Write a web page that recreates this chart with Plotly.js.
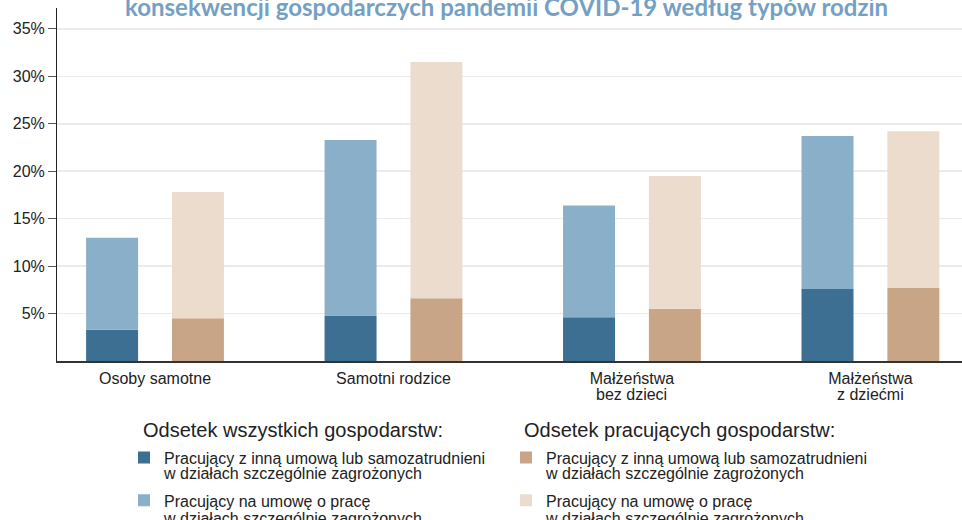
<!DOCTYPE html>
<html>
<head>
<meta charset="utf-8">
<script src="https://cdn.plot.ly/plotly-3.0.1.min.js"></script>
<style>html,body{margin:0;padding:0;background:#fff}#chart{width:962px;height:520px}</style>
</head>
<body>
<div id="chart"></div>
<script>
// Categories (family types)
const categories = ["Osoby samotne", "Samotni rodzice", "Małżeństwa bez dzieci", "Małżeństwa z dziećmi"];
const catLine1 = ["Osoby samotne", "Samotni rodzice", "Małżeństwa", "Małżeństwa"];
const catLine2 = ["", "", "bez dzieci", "z dziećmi"];
// Share of all households (%)
const inneAll = [3.3, 4.8, 4.6, 7.6];      // other contract / self-employed
const umowaAll = [9.7, 18.5, 11.8, 16.1];  // employment contract (stacked on top)
// Share of working households (%)
const innePrac = [4.5, 6.6, 5.5, 7.7];
const umowaPrac = [13.3, 24.9, 14.0, 16.5];

const yTicks = [5, 10, 15, 20, 25, 30, 35];
const yTickText = yTicks.map(v => v + "%");

const titleText = "konsekwencji gospodarczych pandemii COVID-19 według typów rodzin";
const legTitleAll = "Odsetek wszystkich gospodarstw:";
const legTitlePrac = "Odsetek pracujących gospodarstw:";
const lblInne = ["Pracujący z inną umową lub samozatrudnieni", "w działach szczególnie zagrożonych"];
const lblUmowa = ["Pracujący na umowę o pracę", "w działach szczególnie zagrożonych"];

const FONT = "Liberation Sans, Arial, sans-serif";
const W = 0.218;
const common = {type: "bar", x: categories, width: W, hoverinfo: "skip"};

const traces = [
  Object.assign({}, common, {name: lblInne[0], legendgroup: "a1", y: inneAll, offset: -0.289, marker: {color: "#3d6f92"}, legend: "legend"}),
  Object.assign({}, common, {name: lblUmowa[0], legendgroup: "a2", y: umowaAll, base: inneAll, offset: -0.289, marker: {color: "#8ab0c9"}, legend: "legend"}),
  Object.assign({}, common, {name: lblInne[0], legendgroup: "b1", y: innePrac, offset: 0.071, marker: {color: "#c9a587"}, legend: "legend2"}),
  Object.assign({}, common, {name: lblUmowa[0], legendgroup: "b2", y: umowaPrac, base: innePrac, offset: 0.071, marker: {color: "#ecdccd"}, legend: "legend2"})
];

const legendCommon = {
  orientation: "v", xanchor: "left", yanchor: "top", bgcolor: "rgba(0,0,0,0)",
  font: {family: FONT, size: 16, color: "#222"},
  tracegroupgap: 19, traceorder: "grouped", y: -0.2255
};

// pixel helpers for layout-only text placement (paper coords)
const plotL = 57, plotW = 905, plotT = 8, plotH = 353;
const px = x => (x - plotL) / plotW;
const py = y => (plotT + plotH - y) / plotH;

const annotations = [
  {text: titleText, xref: "paper", yref: "paper", x: px(506), y: 1, xanchor: "center", yanchor: "bottom",
   yshift: -15, showarrow: false, font: {family: "Lato, Open Sans, sans-serif", size: 24, color: "#74a0c4", weight: "bold"}},
  {text: legTitleAll, xref: "paper", yref: "paper", x: px(141), y: py(430), xanchor: "left", yanchor: "middle",
   showarrow: false, font: {family: FONT, size: 20, color: "#222"}},
  {text: legTitlePrac, xref: "paper", yref: "paper", x: px(522), y: py(430), xanchor: "left", yanchor: "middle",
   showarrow: false, font: {family: FONT, size: 20, color: "#222"}},
  {text: lblInne[1], xref: "paper", yref: "paper", x: px(161), y: py(473.5), xanchor: "left", yanchor: "middle",
   showarrow: false, font: {family: FONT, size: 16, color: "#222"}},
  {text: lblUmowa[1], xref: "paper", yref: "paper", x: px(161), y: py(518.5), xanchor: "left", yanchor: "middle",
   showarrow: false, font: {family: FONT, size: 16, color: "#222"}},
  {text: lblInne[1], xref: "paper", yref: "paper", x: px(543), y: py(473.5), xanchor: "left", yanchor: "middle",
   showarrow: false, font: {family: FONT, size: 16, color: "#222"}},
  {text: lblUmowa[1], xref: "paper", yref: "paper", x: px(543), y: py(518.5), xanchor: "left", yanchor: "middle",
   showarrow: false, font: {family: FONT, size: 16, color: "#222"}}
];
categories.forEach((c, i) => {
  if (catLine2[i]) annotations.push({text: catLine2[i], xref: "x", yref: "paper", x: c, y: py(394.5),
    xanchor: "center", yanchor: "middle", showarrow: false, font: {family: FONT, size: 16, color: "#222"}});
});

const layout = {
  width: 962, height: 520,
  margin: {l: plotL, r: 0, t: plotT, b: 520 - plotT - plotH},
  paper_bgcolor: "#fff", plot_bgcolor: "#fff",
  barmode: "overlay",
  font: {family: FONT, size: 16, color: "#222"},
  xaxis: {
    type: "category", range: [-0.411, 3.384], automargin: false,
    tickvals: categories, ticktext: catLine1, ticklabelstandoff: 2,
    showline: true, linecolor: "#333", linewidth: 2,
    ticks: "", showgrid: false, zeroline: false,
    tickfont: {size: 16, color: "#222"}
  },
  yaxis: {
    range: [0, 37.2], tickvals: yTicks, ticktext: yTickText, automargin: false,
    showline: true, linecolor: "#222", linewidth: 1,
    ticks: "outside", ticklen: 8, tickcolor: "#555", tickwidth: 1,
    showgrid: true, gridcolor: "#ebebeb", gridwidth: 1.5, zeroline: false,
    tickfont: {size: 16, color: "#222"}
  },
  legend: Object.assign({}, legendCommon, {x: px(124)}),
  legend2: Object.assign({}, legendCommon, {x: px(506)}),
  annotations: annotations,
  showlegend: true
};

Plotly.newPlot("chart", traces, layout, {staticPlot: true, displayModeBar: false});
</script>
</body>
</html>
